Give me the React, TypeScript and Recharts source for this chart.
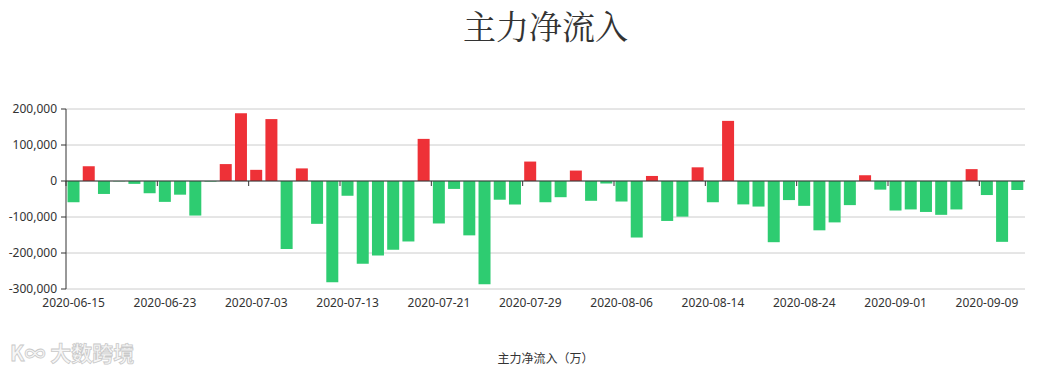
import React from 'react';
import { BarChart, Bar, XAxis, YAxis, CartesianGrid, ReferenceLine, Cell } from 'recharts';

const dates: string[] = [
  '2020-06-15', '2020-06-16', '2020-06-17', '2020-06-18', '2020-06-19', '2020-06-22', '2020-06-23', '2020-06-24', '2020-06-29', '2020-06-30',
  '2020-07-01', '2020-07-02', '2020-07-03', '2020-07-06', '2020-07-07', '2020-07-08', '2020-07-09', '2020-07-10', '2020-07-13', '2020-07-14',
  '2020-07-15', '2020-07-16', '2020-07-17', '2020-07-20', '2020-07-21', '2020-07-22', '2020-07-23', '2020-07-24', '2020-07-27', '2020-07-28',
  '2020-07-29', '2020-07-30', '2020-07-31', '2020-08-03', '2020-08-04', '2020-08-05', '2020-08-06', '2020-08-07', '2020-08-10', '2020-08-11',
  '2020-08-12', '2020-08-13', '2020-08-14', '2020-08-17', '2020-08-18', '2020-08-19', '2020-08-20', '2020-08-21', '2020-08-24', '2020-08-25',
  '2020-08-26', '2020-08-27', '2020-08-28', '2020-08-31', '2020-09-01', '2020-09-02', '2020-09-03', '2020-09-04', '2020-09-07', '2020-09-08',
  '2020-09-09', '2020-09-10', '2020-09-11',
];

const netInflow: number[] = [
  -59000, 41000, -36000, -1000, -8000, -34000, -58000, -38000, -96000, -1500,
  47000, 188000, 31000, 172000, -189000, 35000, -119000, -281000, -41000, -230000,
  -207000, -191000, -168000, 117000, -118000, -22000, -151000, -287000, -52000, -65000,
  54000, -59000, -45000, 29000, -55000, -7000, -57000, -157000, 14000, -111000,
  -99000, 38000, -59000, 167000, -65000, -71000, -170000, -53000, -69000, -137000,
  -115000, -67000, 16000, -24000, -82000, -79000, -86000, -94000, -79000, 33000,
  -39000, -169000, -25000,
];

const yTicks: number[] = [-300000, -200000, -100000, 0, 100000, 200000];

const data = dates.map((d, i) => ({ date: d, value: netInflow[i] }));

const W = 1041;
const H = 369;
const PLOT_LEFT = 66;
const PLOT_RIGHT = 1025;
const PLOT_TOP = 109;
const PLOT_BOTTOM = 289;
const Y_MIN = yTicks[0];
const Y_MAX = yTicks[yTicks.length - 1];
const ZERO_Y = PLOT_TOP + ((Y_MAX - 0) / (Y_MAX - Y_MIN)) * (PLOT_BOTTOM - PLOT_TOP);
const HALF_BAND = (PLOT_RIGHT - PLOT_LEFT) / dates.length / 2;

const RED = '#ee3137';
const GREEN = '#2ecc71';
const FONT = "'Noto Sans', 'Noto Sans CJK SC', sans-serif";

const fmt = (v: number) => v.toLocaleString('en-US');

const XTick = (props: any) => {
  const { x, payload } = props;
  const half = payload && typeof payload.offset === 'number' && payload.offset > 0 ? payload.offset : HALF_BAND;
  const tx = x - half;
  return (
    <g>
      <line x1={tx} x2={tx} y1={ZERO_Y} y2={ZERO_Y + 5} stroke="#333" strokeWidth={1} />
      <text x={x} y={PLOT_BOTTOM + 9} dy="0.71em" textAnchor="middle" fill="#333" fontSize={12} fontFamily={FONT}>
        {payload.value}
      </text>
    </g>
  );
};

export default function App() {
  return (
    <div style={{ position: 'absolute', left: 0, top: 0, width: W, height: H, background: '#fff', fontFamily: FONT }}>
      <div
        style={{
          position: 'absolute',
          left: 0,
          width: W,
          top: 3,
          textAlign: 'center',
          fontSize: 33,
          lineHeight: '44px',
          color: '#333',
          paddingLeft: 50,
          boxSizing: 'border-box',
          fontFamily: "'Noto Serif CJK SC', 'Noto Sans CJK SC', serif",
        }}
      >
        主力净流入
      </div>
      <BarChart
        width={W}
        height={H}
        data={data}
        margin={{ top: PLOT_TOP, right: W - PLOT_RIGHT, left: 0, bottom: H - PLOT_BOTTOM - 30 }}
        barCategoryGap="10%"
      >
        <CartesianGrid horizontal vertical={false} stroke="#ccc" />
        <XAxis
          dataKey="date"
          interval={5}
          axisLine={false}
          tickLine={false}
          height={30}
          tick={<XTick />}
        />
        <YAxis
          width={PLOT_LEFT}
          domain={[Y_MIN, Y_MAX]}
          ticks={yTicks}
          tickFormatter={fmt}
          axisLine={{ stroke: '#333' }}
          tickLine={{ stroke: '#333' }}
          tickSize={5}
          tickMargin={4}
          tick={{ fill: '#333', fontSize: 12, fontFamily: FONT }}
          interval={0}
        />
        <Bar dataKey="value" isAnimationActive={false}>
          {data.map((d, i) => (
            <Cell key={i} fill={d.value >= 0 ? RED : GREEN} />
          ))}
        </Bar>
        <ReferenceLine y={0} stroke="#333" strokeWidth={1} />
      </BarChart>
      <div
        style={{
          position: 'absolute',
          left: 0,
          width: W,
          top: 350,
          textAlign: 'center',
          fontSize: 12,
          color: '#333',
          lineHeight: '16px',
          paddingLeft: 50,
          boxSizing: 'border-box',
          fontFamily: "'Noto Sans CJK SC', sans-serif",
        }}
      >
        主力净流入（万）
      </div>
      <svg style={{ position: 'absolute', left: 0, top: 330 }} width={150} height={39}>
        <text
          x={10}
          y={31}
          fontSize={21}
          fontWeight={700}
          fill="#f6f6f6"
          stroke="#c9c9c9"
          strokeWidth={0.8}
          fontFamily="'Noto Sans CJK SC', sans-serif"
        >
          K∞ 大数跨境
        </text>
      </svg>
    </div>
  );
}
